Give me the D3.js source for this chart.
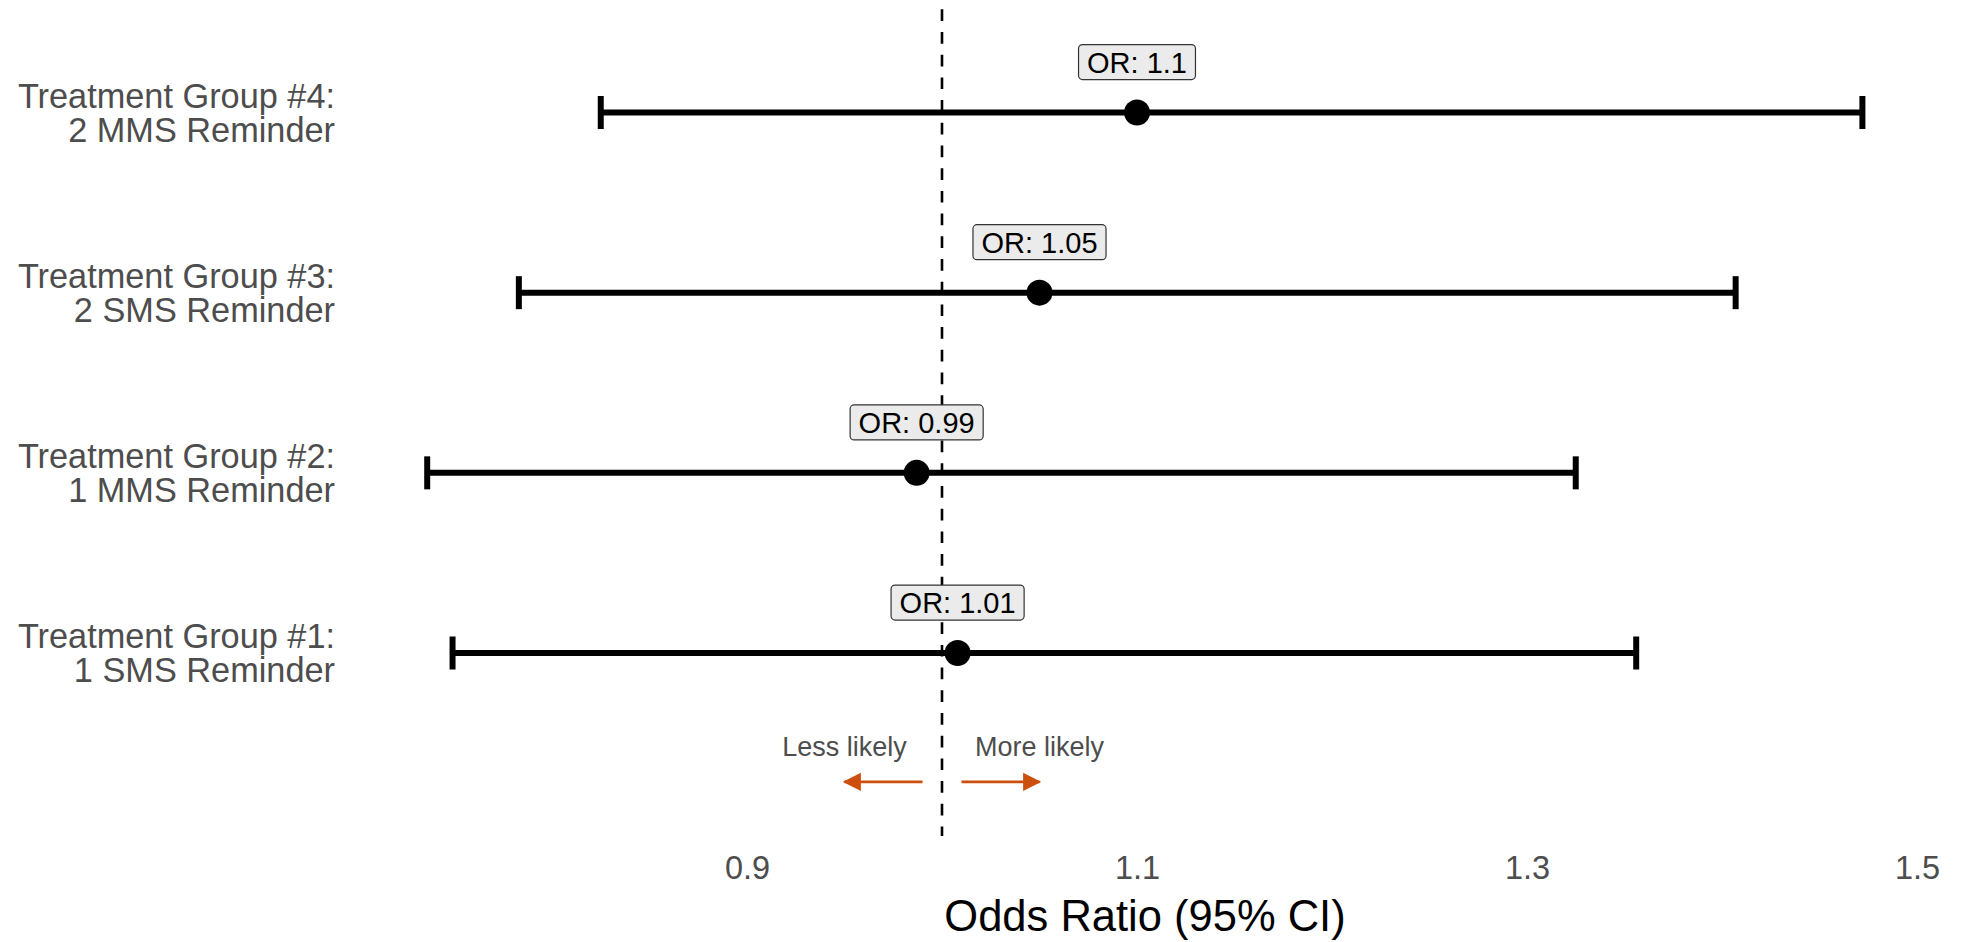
<!DOCTYPE html>
<html>
<head>
<meta charset="utf-8">
<script src="https://cdn.jsdelivr.net/npm/d3@7"></script>
<style>
  html, body { margin: 0; padding: 0; background: #ffffff; }
  svg { display: block; }
  text { font-family: "Liberation Sans", Arial, Helvetica, sans-serif; }
</style>
</head>
<body>
<script>
// ---------------- DATA ----------------
const groupLine1 = ["Treatment Group #1:", "Treatment Group #2:", "Treatment Group #3:", "Treatment Group #4:"];
const groupLine2 = ["1 SMS Reminder", "1 MMS Reminder", "2 SMS Reminder", "2 MMS Reminder"];
const rowIndex   = [1, 2, 3, 4];
const oddsRatio  = [1.008, 0.987, 1.050, 1.100];
const ciLower    = [0.749, 0.736, 0.783, 0.825];
const ciUpper    = [1.356, 1.325, 1.407, 1.472];
const orLabels   = ["1.01", "0.99", "1.05", "1.1"];
const xTicks     = [0.9, 1.1, 1.3, 1.5];
const xTickLabels = ["0.9", "1.1", "1.3", "1.5"];
const refValue   = 1;
const arrowLeft  = [0.99, 0.95];
const arrowRight = [1.01, 1.05];
const arrowTexts = ["Less likely", "More likely"];
const arrowRow   = 0.285;
const arrowTextRow = 0.43;
const axisTitle  = "Odds Ratio (95% CI)";

// ---------------- LAYOUT ----------------
const W = 1962, H = 942;
const panelTop = 0, panelBottom = 836;
const labelNudgeRows = 0.28;

const x = d3.scaleLinear().domain([0.9, 1.5]).range([747, 1917]);
const y = d3.scaleLinear().domain([1, 4]).range([653, 112.5]);

const svg = d3.select("body").append("svg")
  .attr("width", W).attr("height", H);

const rows = rowIndex.map((r, i) => ({
  r, l1: groupLine1[i], l2: groupLine2[i],
  or: oddsRatio[i], lo: ciLower[i], hi: ciUpper[i], lab: "OR: " + orLabels[i]
}));

// reference dashed line
svg.append("line")
  .attr("x1", x(refValue)).attr("x2", x(refValue))
  .attr("y1", panelTop).attr("y2", panelBottom)
  .attr("stroke", "#000").attr("stroke-width", 2.6)
  .attr("stroke-dasharray", "11.7 11")
  .attr("stroke-dashoffset", 13.4);

// error bars
const eb = svg.append("g").attr("class", "errorbars");
const capHalf = 16.5, ebw = 6;
eb.selectAll("line.ci").data(rows).join("line").attr("class", "ci")
  .attr("x1", d => x(d.lo)).attr("x2", d => x(d.hi))
  .attr("y1", d => y(d.r)).attr("y2", d => y(d.r))
  .attr("stroke", "#000").attr("stroke-width", ebw);
eb.selectAll("line.capL").data(rows).join("line").attr("class", "capL")
  .attr("x1", d => x(d.lo)).attr("x2", d => x(d.lo))
  .attr("y1", d => y(d.r) - capHalf).attr("y2", d => y(d.r) + capHalf)
  .attr("stroke", "#000").attr("stroke-width", ebw);
eb.selectAll("line.capR").data(rows).join("line").attr("class", "capR")
  .attr("x1", d => x(d.hi)).attr("x2", d => x(d.hi))
  .attr("y1", d => y(d.r) - capHalf).attr("y2", d => y(d.r) + capHalf)
  .attr("stroke", "#000").attr("stroke-width", ebw);

// points
svg.append("g").selectAll("circle").data(rows).join("circle")
  .attr("cx", d => x(d.or)).attr("cy", d => y(d.r)).attr("r", 13)
  .attr("fill", "#000");

// OR labels
const lab = svg.append("g").selectAll("g").data(rows).join("g")
  .attr("transform", d => `translate(${x(d.or)},${y(d.r + labelNudgeRows)})`);
lab.append("text")
  .attr("text-anchor", "middle").attr("dy", "0.36em")
  .attr("font-size", 29).attr("fill", "#000")
  .text(d => d.lab)
  .each(function () {
    const bb = this.getBBox();
    const padX = 8.5, h = 35;
    d3.select(this.parentNode).insert("rect", "text")
      .attr("x", -bb.width / 2 - padX).attr("y", -h / 2)
      .attr("width", bb.width + 2 * padX).attr("height", h)
      .attr("rx", 4).attr("ry", 4)
      .attr("fill", "#ebebeb").attr("stroke", "#333").attr("stroke-width", 1.2);
  });

// y-axis category labels
const yl = svg.append("g").selectAll("text").data(rows).join("text")
  .attr("x", 335).attr("y", d => y(d.r))
  .attr("text-anchor", "end").attr("font-size", 34.3).attr("fill", "#4d4d4d");
yl.append("tspan").attr("x", 335).attr("dy", -4.8).text(d => d.l1);
yl.append("tspan").attr("x", 335).attr("dy", 34).text(d => d.l2);

// x axis (labels only)
const xAxis = d3.axisBottom(x).tickValues(xTicks)
  .tickFormat((d, i) => xTickLabels[i]).tickSize(0).tickPadding(0);
const gx = svg.append("g").attr("transform", "translate(0,856)").call(xAxis);
gx.select(".domain").remove();
gx.selectAll("text").attr("font-size", 32.5).attr("fill", "#4d4d4d")
  .attr("font-family", "'Liberation Sans', Arial, sans-serif")
  .attr("dy", "0.71em");

// axis title
svg.append("text").attr("x", (345 + 1945) / 2).attr("y", 931)
  .attr("text-anchor", "middle").attr("font-size", 43.5).attr("fill", "#000")
  .text(axisTitle);

// arrows
const arrowColor = "#cc4f0e";
const defs = svg.append("defs");
defs.append("marker").attr("id", "ah")
  .attr("viewBox", "0 0 10 10").attr("refX", 9).attr("refY", 5)
  .attr("markerWidth", 6.5).attr("markerHeight", 7.5)
  .attr("markerUnits", "strokeWidth").attr("orient", "auto")
  .append("path").attr("d", "M0,0 L10,5 L0,10 Z").attr("fill", arrowColor);

[arrowLeft, arrowRight].forEach(a => {
  svg.append("line")
    .attr("x1", x(a[0])).attr("x2", x(a[1]))
    .attr("y1", y(arrowRow)).attr("y2", y(arrowRow))
    .attr("stroke", arrowColor).attr("stroke-width", 2.8)
    .attr("marker-end", "url(#ah)");
});
svg.append("g").selectAll("text").data([arrowLeft[1], arrowRight[1]]).join("text")
  .attr("x", d => x(d)).attr("y", y(arrowTextRow))
  .attr("text-anchor", "middle").attr("font-size", 27).attr("fill", "#4d4d4d")
  .text((d, i) => arrowTexts[i]);
</script>
</body>
</html>
